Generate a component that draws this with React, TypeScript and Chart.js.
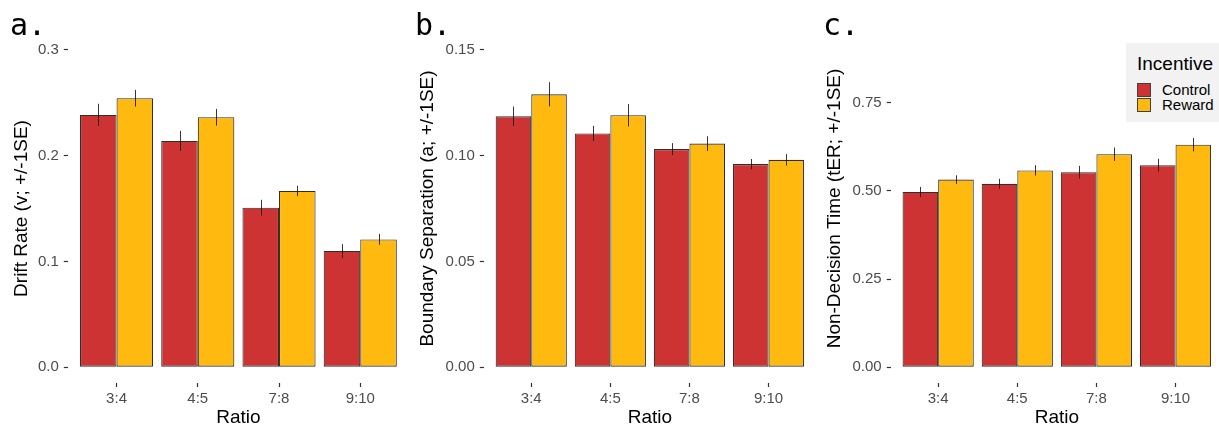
import React, { useEffect, useRef } from "react";
import { Chart, registerables } from "chart.js";

Chart.register(...registerables);

// ---------- data ----------
const categories = ["3:4", "4:5", "7:8", "9:10"];
const seriesNames = ["Control", "Reward"];
const seriesColors = ["#CD3333", "#FFB90F"];

const driftControl = [0.2385, 0.2139, 0.1508, 0.1098];
const driftControlSE = [0.0105, 0.0095, 0.0074, 0.0065];
const driftReward = [0.2543, 0.2363, 0.1666, 0.1208];
const driftRewardSE = [0.0079, 0.0079, 0.0049, 0.0052];

const boundaryControl = [0.1186, 0.1105, 0.1031, 0.096];
const boundaryControlSE = [0.0046, 0.0036, 0.0028, 0.0024];
const boundaryReward = [0.129, 0.1191, 0.1057, 0.098];
const boundaryRewardSE = [0.0057, 0.0053, 0.0035, 0.0027];

const nondecControl = [0.497, 0.52, 0.553, 0.573];
const nondecControlSE = [0.0142, 0.0142, 0.018, 0.018];
const nondecReward = [0.532, 0.558, 0.604, 0.631];
const nondecRewardSE = [0.0123, 0.0147, 0.019, 0.019];

const driftTicks = [0, 0.1, 0.2, 0.3];
const driftTickLabels = ["0.0", "0.1", "0.2", "0.3"];
const boundaryTicks = [0, 0.05, 0.1, 0.15];
const boundaryTickLabels = ["0.00", "0.05", "0.10", "0.15"];
const nondecTicks = [0, 0.25, 0.5, 0.75];
const nondecTickLabels = ["0.00", "0.25", "0.50", "0.75"];

const xTitle = "Ratio";
const legendTitle = "Incentive";

// ---------- layout / style ----------
const FONT = "'Liberation Sans', Arial, sans-serif";

type Panel = {
  tag: string;
  title: string;
  control: number[];
  controlSE: number[];
  reward: number[];
  rewardSE: number[];
  ticks: number[];
  tickLabels: string[];
  yMin: number;
  yMax: number;
  left: number;
  width: number;
  yAxisWidth: number;
  titlePad: number;
  tagLeft: number;
};

const panels: Panel[] = [
  {
    tag: "a.",
    title: "Drift Rate (v; +/-1SE)",
    control: driftControl,
    controlSE: driftControlSE,
    reward: driftReward,
    rewardSE: driftRewardSE,
    ticks: driftTicks,
    tickLabels: driftTickLabels,
    yMin: -0.015,
    yMax: 0.315,
    left: 0,
    width: 409,
    yAxisWidth: 67.8,
    titlePad: 10,
    tagLeft: 10,
  },
  {
    tag: "b.",
    title: "Boundary Separation (a; +/-1SE)",
    control: boundaryControl,
    controlSE: boundaryControlSE,
    reward: boundaryReward,
    rewardSE: boundaryRewardSE,
    ticks: boundaryTicks,
    tickLabels: boundaryTickLabels,
    yMin: -0.0075,
    yMax: 0.1575,
    left: 409,
    width: 407,
    yAxisWidth: 74.8,
    titlePad: 7,
    tagLeft: 415,
  },
  {
    tag: "c.",
    title: "Non-Decision Time (tER; +/-1SE)",
    control: nondecControl,
    controlSE: nondecControlSE,
    reward: nondecReward,
    rewardSE: nondecRewardSE,
    ticks: nondecTicks,
    tickLabels: nondecTickLabels,
    yMin: -0.045,
    yMax: 0.945,
    left: 817,
    width: 406,
    yAxisWidth: 73.7,
    titlePad: 6,
    tagLeft: 823,
  },
];

const errorBarPlugin = {
  id: "errorBars",
  afterDatasetsDraw(chart: any, _args: any, opts: any) {
    const ctx = chart.ctx;
    const yScale = chart.scales.y;
    const seArr: number[][] = opts.se || [];
    chart.data.datasets.forEach((ds: any, di: number) => {
      const meta = chart.getDatasetMeta(di);
      const se = seArr[di] || [];
      meta.data.forEach((bar: any, j: number) => {
        const v = ds.data[j].y;
        const e = se[j] || 0;
        const x = Math.round(bar.x) + 0.5;
        ctx.save();
        ctx.strokeStyle = "rgba(20,20,20,0.85)";
        ctx.lineWidth = 1;
        ctx.beginPath();
        ctx.moveTo(x, yScale.getPixelForValue(v - e));
        ctx.lineTo(x, yScale.getPixelForValue(v + e));
        ctx.stroke();
        ctx.restore();
      });
    });
  },
};

function PanelChart({ p }: { p: Panel }) {
  const ref = useRef<HTMLCanvasElement | null>(null);
  useEffect(() => {
    if (!ref.current) return;
    const series = [p.control, p.reward];
    const chart = new Chart(ref.current, {
      type: "bar",
      data: {
        datasets: series.map((vals, si) => ({
          label: seriesNames[si],
          data: categories.map((_, i) => ({ x: i + 1, y: vals[i] })),
          backgroundColor: seriesColors[si],
          borderColor: "#2e2e2e",
          borderWidth: 1.1,
          borderSkipped: false,
          categoryPercentage: 0.9,
          barPercentage: 1.0,
        })),
      },
      options: {
        animation: false,
        responsive: false,
        devicePixelRatio: 1,
        layout: { padding: { top: 34, left: 0, right: 0, bottom: 0 } },
        plugins: {
          legend: { display: false },
          tooltip: { enabled: false },
          errorBars: { se: [p.controlSE, p.rewardSE] },
        } as any,
        scales: {
          x: {
            type: "linear",
            min: 0.4,
            max: 4.6,
            offset: false,
            grid: {
              display: true,
              drawOnChartArea: false,
              drawTicks: true,
              tickLength: 4,
              tickWidth: 1.2,
              tickColor: "#333333",
              offset: false,
            },
            border: { display: false },
            afterBuildTicks: (scale: any) => {
              scale.ticks = categories.map((_, i) => ({ value: i + 1 }));
            },
            afterFit: (scale: any) => {
              scale.height = 46;
            },
            ticks: {
              autoSkip: false,
              maxRotation: 0,
              padding: 3,
              color: "#4D4D4D",
              font: { family: FONT, size: 15 },
              callback: (v: any) => categories[Math.round(Number(v)) - 1] ?? "",
            },
            title: {
              display: true,
              text: xTitle,
              color: "#000000",
              font: { family: FONT, size: 19 },
              padding: { top: 0, bottom: 0 },
            },
          },
          y: {
            type: "linear",
            min: p.yMin,
            max: p.yMax,
            grid: {
              display: true,
              drawOnChartArea: false,
              drawTicks: true,
              tickLength: 4,
              tickWidth: 1.2,
              tickColor: "#333333",
            },
            border: { display: false },
            afterBuildTicks: (scale: any) => {
              scale.ticks = p.ticks.map((v) => ({ value: v }));
            },
            afterFit: (scale: any) => {
              scale.width = p.yAxisWidth;
            },
            ticks: {
              padding: 5,
              color: "#4D4D4D",
              font: { family: FONT, size: 15 },
              callback: (_v: any, idx: number) => p.tickLabels[idx],
            },
            title: {
              display: true,
              text: p.title,
              color: "#000000",
              font: { family: FONT, size: 19 },
              padding: { top: p.titlePad, bottom: 0 },
            },
          },
        },
      } as any,
      plugins: [errorBarPlugin as any],
    });
    return () => chart.destroy();
  }, [p]);

  return (
    <canvas
      ref={ref}
      width={p.width}
      height={429}
      style={{ position: "absolute", left: p.left, top: 0, width: p.width, height: 429 }}
    />
  );
}

export default function App() {
  return (
    <div
      style={{
        position: "fixed",
        left: 0,
        top: 0,
        width: 1219,
        height: 429,
        overflow: "hidden",
        background: "#ffffff",
      }}
    >
      {panels.map((p) => (
        <PanelChart key={p.tag} p={p} />
      ))}
      {panels.map((p) => (
        <div
          key={"tag" + p.tag}
          style={{
            position: "absolute",
            left: p.tagLeft,
            top: 10,
            fontFamily: "'DejaVu Sans Mono', monospace",
            fontSize: 30,
            lineHeight: "30px",
            color: "#000",
            whiteSpace: "nowrap",
          }}
        >
          {p.tag}
        </div>
      ))}
      <div
        style={{
          position: "absolute",
          left: 1126,
          top: 43,
          width: 110,
          height: 79,
          background: "#F2F2F2",
          fontFamily: FONT,
        }}
      >
        <div
          style={{
            position: "absolute",
            left: 11,
            top: 10,
            fontSize: 19,
            lineHeight: "22px",
            color: "#000",
            whiteSpace: "nowrap",
          }}
        >
          {legendTitle}
        </div>
        {seriesNames.map((name, i) => (
          <React.Fragment key={name}>
            <div
              style={{
                position: "absolute",
                left: 11,
                top: 40 + i * 15,
                width: 12,
                height: 12,
                background: seriesColors[i],
                border: "1px solid #404040",
              }}
            />
            <div
              style={{
                position: "absolute",
                left: 36,
                top: 38 + i * 15,
                fontSize: 15,
                lineHeight: "18px",
                color: "#000",
                whiteSpace: "nowrap",
              }}
            >
              {name}
            </div>
          </React.Fragment>
        ))}
      </div>
    </div>
  );
}
